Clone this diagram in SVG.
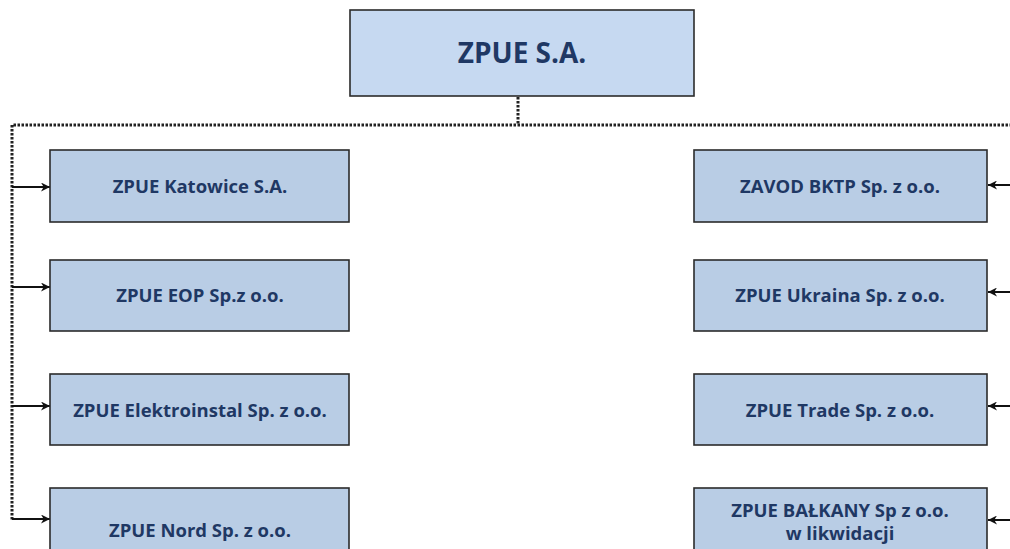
<svg xmlns="http://www.w3.org/2000/svg" width="1010" height="549" viewBox="0 0 1010 549">
<defs>
<marker id="ah" viewBox="0 0 10 10" refX="10" refY="5" markerWidth="10" markerHeight="9" markerUnits="userSpaceOnUse" orient="auto">
<path d="M0,0 L10,5 L0,10 L3,5 Z" fill="#111"/>
</marker>
<style>
.top{fill:#C6D9F1;stroke:#2b2b2b;stroke-width:1.6}
.box{fill:#B9CDE5;stroke:#2b2b2b;stroke-width:1.6}
.t{font-family:"Open Sans","Liberation Sans",sans-serif;font-weight:bold;fill:#1F3864;text-anchor:middle;font-size:18.5px}
.tt{font-size:28px}
.dot{fill:none;stroke:#222;stroke-width:3;stroke-dasharray:2.5 1.5}
.arr{fill:none;stroke:#111;stroke-width:2;marker-end:url(#ah)}
</style>
</defs>
<rect width="1010" height="549" fill="#fff"/>
<g id="connectors">
<path class="dot" d="M518,97 V125"/>
<path class="dot" d="M1012,125 H12 V520"/>
<path class="arr" d="M12,187 H50"/>
<path class="arr" d="M12,287 H50"/>
<path class="arr" d="M12,406 H50"/>
<path class="arr" d="M12,519 H50"/>
<path class="arr" d="M1012,185 H988"/>
<path class="arr" d="M1012,292 H988"/>
<path class="arr" d="M1012,406 H988"/>
<path class="arr" d="M1012,520 H988"/>
</g>
<g id="n0"><rect class="top" x="350" y="10" width="344" height="86"/><text class="t tt" x="522" y="63">ZPUE S.A.</text></g>
<g id="n1"><rect class="box" x="50" y="150" width="299" height="72"/><text class="t" x="200" y="193">ZPUE Katowice S.A.</text></g>
<g id="n2"><rect class="box" x="50" y="260" width="299" height="71"/><text class="t" x="200" y="302">ZPUE EOP Sp.z o.o.</text></g>
<g id="n3"><rect class="box" x="50" y="374" width="299" height="71"/><text class="t" x="200" y="417">ZPUE Elektroinstal Sp. z o.o.</text></g>
<g id="n4"><rect class="box" x="50" y="488" width="299" height="70"/><text class="t" x="200" y="537">ZPUE Nord Sp. z o.o.</text></g>
<g id="n5"><rect class="box" x="694" y="150" width="293" height="72"/><text class="t" x="840" y="193">ZAVOD BKTP Sp. z o.o.</text></g>
<g id="n6"><rect class="box" x="694" y="260" width="293" height="71"/><text class="t" x="840" y="302">ZPUE Ukraina Sp. z o.o.</text></g>
<g id="n7"><rect class="box" x="694" y="374" width="293" height="71"/><text class="t" x="840" y="417">ZPUE Trade Sp. z o.o.</text></g>
<g id="n8"><rect class="box" x="694" y="488" width="293" height="70"/><text class="t" x="840" y="517">ZPUE BAŁKANY Sp z o.o.</text><text class="t" x="840" y="540">w likwidacji</text></g>
</svg>
